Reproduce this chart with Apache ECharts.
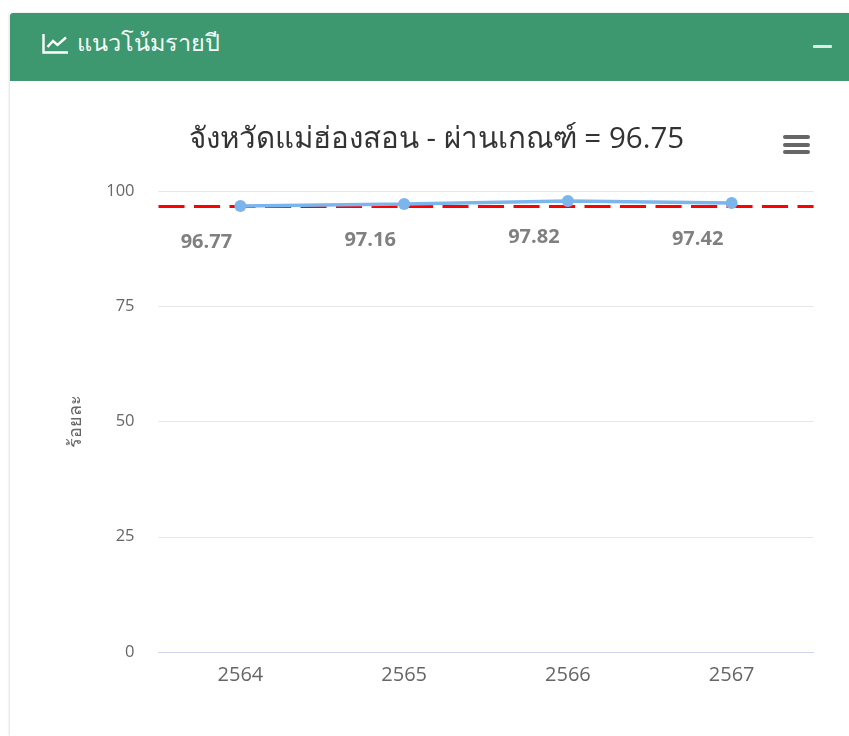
<!DOCTYPE html>
<html lang="th">
<head>
<meta charset="utf-8">
<script src="https://cdn.jsdelivr.net/npm/echarts@6/dist/echarts.min.js"></script>
<style>
html,body{margin:0;padding:0;width:849px;height:736px;overflow:hidden;background:#fff;font-family:"Open Sans","Noto Sans",sans-serif}
#card{position:absolute;left:10px;top:13px;width:839px;height:723px;background:#fff;box-shadow:-1px 0 2px rgba(0,0,0,.12)}
#head{position:absolute;left:0;top:0;width:839px;height:68px;background:#3d986f;border-radius:3px 0 0 0;color:#fff}
#head svg{position:absolute;left:32px;top:20px}
#head span{position:absolute;left:67px;top:14px;font-size:23.5px;line-height:30px;color:#f4faf7}
#minus{position:absolute;left:803px;top:32px;width:19px;height:2.5px;background:#dcece5;border-radius:1px}
#chart{position:absolute;left:0;top:0;width:849px;height:736px}
#menu{position:absolute;left:783px;top:135px;width:27px;height:20px}
#menu i{display:block;height:4px;background:#666;border-radius:2px;margin-bottom:3.5px}
</style>
</head>
<body>
<div id="card">
  <div id="head">
    <svg width="27" height="22" viewBox="0 0 27 22" fill="none" stroke="#fff" stroke-width="2.4"><path d="M1.5 1v18.5H26"/><path d="M5.5 14l5.5-6 4.5 4L24 4.5"/></svg>
    <span>แนวโน้มรายปี</span>
    <div id="minus"></div>
  </div>
</div>
<div id="chart"></div>
<div id="menu"><i></i><i></i><i></i></div>
<script>
const years = ['2564', '2565', '2566', '2567'];
const percentValues = [96.77, 97.16, 97.82, 97.42];
const threshold = 96.75;
const chartTitle = 'จังหวัดแม่ฮ่องสอน - ผ่านเกณฑ์ = 96.75';
const yAxisName = 'ร้อยละ';

const chart = echarts.init(document.getElementById('chart'), null, {renderer: 'canvas'});
const fontFamily = '"Open Sans","Noto Sans",sans-serif';
chart.setOption({
  animation: false,
  title: {
    text: chartTitle,
    left: 431.5, top: 120, textAlign: 'center',
    textStyle: {fontFamily, fontSize: 29.5, fontWeight: 'normal', color: '#333'}
  },
  grid: {left: 158.5, right: 35.5, top: 191, bottom: 84},
  xAxis: {
    type: 'category',
    data: years,
    axisTick: {show: false},
    axisLine: {lineStyle: {color: '#ccd6eb', width: 1}},
    axisLabel: {fontFamily, fontSize: 20, color: '#666', margin: 13}
  },
  yAxis: {
    type: 'value', min: 0, max: 100, interval: 25,
    name: yAxisName, nameLocation: 'middle', nameRotate: 90, nameGap: 74,
    nameTextStyle: {fontFamily, fontSize: 18, color: '#666'},
    axisLine: {show: false}, axisTick: {show: false},
    axisLabel: {fontFamily, fontSize: 16.5, color: '#666', margin: 24, padding: [2, 0, 0, 0]},
    splitLine: {lineStyle: {color: '#e6e6e6', width: 1}}
  },
  series: [{
    type: 'line',
    data: percentValues,
    symbol: 'circle', symbolSize: 12,
    lineStyle: {color: '#7cb5ec', width: 3.5},
    itemStyle: {color: '#7cb5ec'},
    label: {
      show: true, position: 'inside', offset: [-34, 36],
      fontFamily, fontSize: 20, fontWeight: 'bold', color: '#808080',
      formatter: p => p.value.toFixed(2)
    },
    z: 3,
    markLine: {
      silent: true, symbol: 'none', animation: false,
      label: {show: false},
      lineStyle: {color: '#ff0000', width: 3, type: [26, 9.5]},
      data: [{yAxis: threshold}],
      z: 2
    }
  }]
});
</script>
</body>
</html>
